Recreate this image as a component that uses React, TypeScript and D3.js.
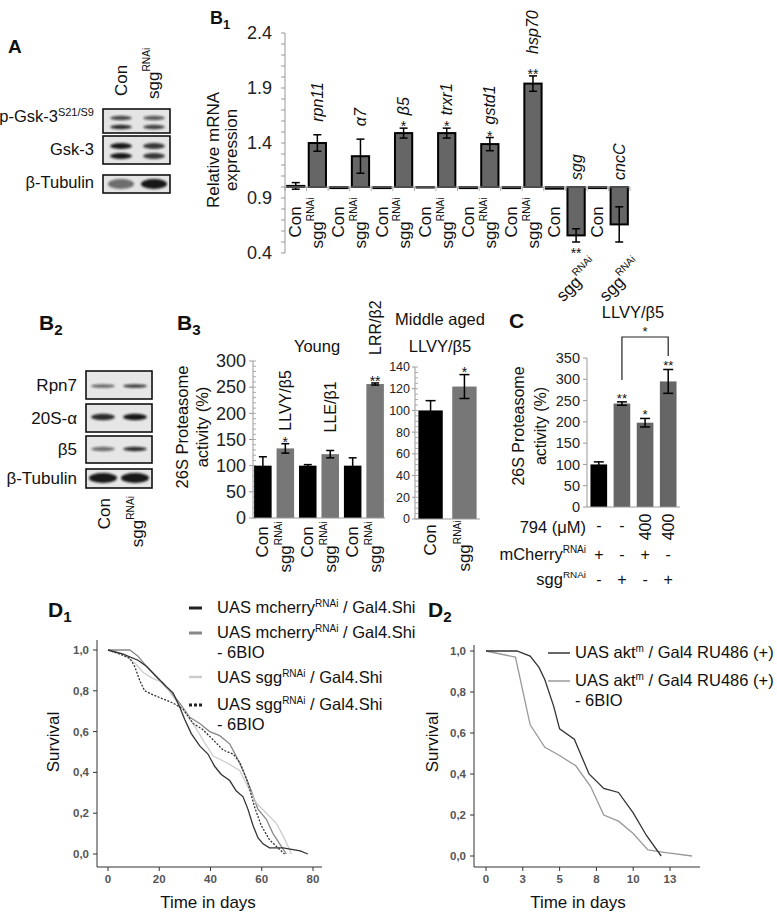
import React from "react";
import * as d3 from "d3";

const FONT = "'Liberation Sans', Arial, Helvetica, sans-serif";

// ---------------- Panel A (western blot) ----------------
const aRows = ["p-Gsk-3", "Gsk-3", "β-Tubulin"];
const aLanes = ["Con", "sgg"];
const aIntensity = [
  [0.85, 0.75],
  [0.95, 0.8],
  [0.55, 0.95],
];

// ---------------- Panel B1 ----------------
const b1Genes = ["rpn11", "α7", "β5", "trxr1", "gstd1", "hsp70", "sgg", "cncC"];
const b1ConValues = [1.01, 0.99, 0.99, 1.0, 0.99, 0.99, 0.985, 0.99];
const b1ConErrors = [0.03, 0.004, 0.004, 0.003, 0.004, 0.004, 0.008, 0.004];
const b1SggValues = [1.4, 1.28, 1.49, 1.49, 1.39, 1.94, 0.56, 0.66];
const b1SggErrors = [0.075, 0.155, 0.045, 0.045, 0.06, 0.07, 0.06, 0.16];
const b1Stars = ["", "", "*", "*", "*", "**", "**", ""];
const b1YTicks = [0.4, 0.9, 1.4, 1.9, 2.4];

// ---------------- Panel B2 ----------------
const b2Rows = ["Rpn7", "20S-α", "β5", "β-Tubulin"];
const b2Intensity = [
  [0.6, 0.8],
  [0.85, 0.95],
  [0.55, 0.85],
  [0.95, 0.95],
];

// ---------------- Panel B3 ----------------
const b3Assays = ["LLVY/β5", "LLE/β1", "LRR/β2"];
const b3ConValues = [100, 100, 100];
const b3ConErrors = [17, 2, 15];
const b3SggValues = [133, 122, 256];
const b3SggErrors = [9, 7, 2];
const b3Stars = ["*", "", "**"];
const b3YTicks = [0, 50, 100, 150, 200, 250, 300];
const b3MidValues = [100, 122];
const b3MidErrors = [9, 11];
const b3MidStars = ["", "*"];
const b3MidTicks = [0, 20, 40, 60, 80, 100, 120, 140];

// ---------------- Panel C ----------------
const cValues = [100, 243, 198, 295];
const cErrors = [6, 4, 10, 28];
const cStars = ["", "**", "*", "**"];
const cDose = ["-", "-", "400", "400"];
const cMcherry = ["+", "-", "+", "-"];
const cSgg = ["-", "+", "-", "+"];
const cYTicks = [0, 50, 100, 150, 200, 250, 300, 350];

// ---------------- Panel D1 ----------------
const d1Mcherry: [number, number][] = [[0, 1], [5.9, 0.98], [11.7, 0.95], [15, 0.92], [18.9, 0.87], [22.8, 0.82], [25.4, 0.79], [28, 0.72], [29.9, 0.66], [32.5, 0.59], [35.8, 0.53], [39, 0.49], [41.6, 0.43], [44.2, 0.39], [47.5, 0.36], [50, 0.31], [52.7, 0.28], [54.6, 0.22], [56.6, 0.14], [58.5, 0.08], [60.5, 0.05], [63, 0.03], [68.3, 0.03], [75, 0.015], [78, 0]];
const d1Mcherry6BIO: [number, number][] = [[0, 1], [8.5, 1.0], [11.7, 0.97], [15, 0.92], [20.2, 0.85], [24, 0.8], [28, 0.74], [31.9, 0.67], [35.8, 0.64], [39.7, 0.6], [43.6, 0.58], [47.5, 0.54], [50, 0.48], [52.7, 0.41], [55.9, 0.31], [58.5, 0.22], [61.8, 0.17], [64.4, 0.1], [67, 0.05], [69.6, 0]];
const d1Sgg: [number, number][] = [[0, 1], [5.9, 0.98], [11, 0.93], [13.7, 0.89], [17.6, 0.86], [21.5, 0.84], [25.4, 0.77], [29.3, 0.71], [33.2, 0.64], [37, 0.56], [41, 0.48], [46, 0.45], [51.4, 0.41], [54.6, 0.33], [57.9, 0.25], [61.8, 0.2], [65.7, 0.15], [68.3, 0.09], [70.9, 0.02], [71.5, 0]];
const d1Sgg6BIO: [number, number][] = [[0, 1], [4.5, 0.98], [8.5, 0.96], [10.4, 0.92], [12.4, 0.85], [14.3, 0.8], [17.6, 0.78], [21.5, 0.76], [25.4, 0.74], [29.3, 0.71], [33.2, 0.64], [37, 0.61], [41, 0.56], [44.9, 0.51], [48.8, 0.49], [51.4, 0.45], [54.6, 0.35], [57.2, 0.23], [59.8, 0.14], [63, 0.07], [66.3, 0.03], [68.9, 0]];
const d1XTicks = [0, 20, 40, 60, 80];
const survTicks = [0, 0.2, 0.4, 0.6, 0.8, 1.0];

// ---------------- Panel D2 ----------------
const d2Akt: [number, number][] = [[0, 1], [2.1, 1], [3, 0.975], [3.6, 0.92], [4, 0.86], [4.6, 0.73], [5, 0.62], [6, 0.57], [7, 0.4], [8, 0.33], [9, 0.31], [10, 0.21], [10.9, 0.1], [11.9, 0]];
const d2Akt6BIO: [number, number][] = [[0, 1], [2, 0.97], [3, 0.64], [4, 0.53], [5, 0.49], [6.1, 0.44], [7.1, 0.34], [8, 0.2], [9, 0.17], [10, 0.11], [11, 0.03], [12.1, 0.018], [14, 0]];
const d2XTicks = [0, 2.5, 5, 7.5, 10, 12.5];
const d2XTickLabels = ["0", "3", "5", "8", "10", "13"];

// ---------------- helpers ----------------
function Sgg({ size }: { size: number }) {
  return (
    <>
      <tspan>sgg</tspan>
      <tspan dy={-size * 0.42} fontSize={size * 0.6}>RNAi</tspan>
    </>
  );
}

function VText({ x, y, anchor = "start", size = 17, italic = false, children, fill = "#111", rot = -90 }: any) {
  return (
    <text
      transform={`translate(${x},${y}) rotate(${rot})`}
      textAnchor={anchor}
      dominantBaseline="central"
      fontSize={size}
      fontStyle={italic ? "italic" : "normal"}
      fill={fill}
    >
      {children}
    </text>
  );
}

function PanelLabel({ x, y, main, sub, size = 21 }: any) {
  return (
    <text x={x} y={y} fontSize={size} fontWeight="bold" fill="#111">
      {main}
      {sub ? <tspan fontSize={size * 0.72} dy={size * 0.25}>{sub}</tspan> : null}
    </text>
  );
}

function ErrBar({ cx, y1, y2, w = 8, sw = 1.5 }: any) {
  return (
    <g stroke="#000" strokeWidth={sw}>
      <line x1={cx} x2={cx} y1={y1} y2={y2} />
      <line x1={cx - w / 2} x2={cx + w / 2} y1={y1} y2={y1} />
      <line x1={cx - w / 2} x2={cx + w / 2} y1={y2} y2={y2} />
    </g>
  );
}

// ---------------- Panel A ----------------
function PanelA() {
  const boxX = 103, boxW = 67;
  const laneX = [121, 154];
  const rows = [
    { y: 109, h: 24, bands: [118, 127], ry: 2.2 },
    { y: 136, h: 28, bands: [146, 156], ry: 3 },
    { y: 175, h: 18, bands: [184], ry: 5 },
  ];
  const labelY = [122, 155, 188];
  return (
    <g>
      <PanelLabel x={8} y={53} main="A" size={19} />
      <VText x={121} y={96} size={17}>{aLanes[0]}</VText>
      <VText x={153} y={99} size={17}><Sgg size={17} /></VText>
      {aRows.map((r, i) => (
        <g key={r}>
          <text x={94} y={labelY[i]} textAnchor="end" fontSize={16.5} fill="#111">
            {i === 0 ? (<>{r}<tspan dy={-6} fontSize={11}>S21/S9</tspan></>) : r}
          </text>
          <rect x={boxX} y={rows[i].y} width={boxW} height={rows[i].h} fill="#e4e4e4" stroke="#111" strokeWidth={1.6} />
          {laneX.map((lx, j) =>
            rows[i].bands.map((by, k) => (
              <ellipse key={`${j}-${k}`} cx={lx} cy={by} rx={i === 2 ? 13 : 11} ry={rows[i].ry}
                fill="#111" opacity={aIntensity[i][j] * (k === 0 && i === 0 ? 0.85 : 1)} filter="url(#blur)" />
            ))
          )}
        </g>
      ))}
    </g>
  );
}

// ---------------- Panel B1 ----------------
function PanelB1() {
  const y = d3.scaleLinear().domain([0.4, 2.4]).range([253, 33]);
  const n = b1Genes.length * 2;
  const x = d3.scaleBand<number>().domain(d3.range(n)).range([285, 630]).paddingInner(0.2).paddingOuter(0.1);
  const bw = x.bandwidth();
  const base = y(1);
  const minor = d3.range(4, 25).map((v) => v / 10);
  return (
    <g>
      <PanelLabel x={210} y={24} main="B" sub="1" size={18} />
      <VText x={213} y={150} anchor="middle" size={17}>Relative mRNA</VText>
      <VText x={231} y={150} anchor="middle" size={17}>expression</VText>
      <line x1={285} x2={285} y1={y(2.4)} y2={y(0.4)} stroke="#999" />
      {minor.map((v) => (
        <line key={v} x1={281} x2={285} y1={y(v)} y2={y(v)} stroke="#999" />
      ))}
      {b1YTicks.map((v) => (
        <text key={v} x={272} y={y(v)} dy="0.35em" textAnchor="end" fontSize={18} fill="#222">{v.toFixed(1)}</text>
      ))}
      {d3.range(n + 1).map((i) => {
        const xx = 285 + (i * 345) / n;
        return <line key={i} x1={xx} x2={xx} y1={base} y2={base + 4} stroke="#aaa" />;
      })}
      {b1Genes.map((g, gi) => {
        const ci = gi * 2, si = gi * 2 + 1;
        const cx0 = (x(ci) as number) + bw / 2;
        const cx1 = (x(si) as number) + bw / 2;
        const cv = b1ConValues[gi], sv = b1SggValues[gi];
        const se = b1SggErrors[gi];
        const pos = sv >= 1;
        const errTop = y(sv + se), errBot = y(sv - se);
        const star = b1Stars[gi];
        return (
          <g key={g}>
            <rect x={x(ci)} y={Math.min(y(cv), base)} width={bw} height={Math.max(Math.abs(y(cv) - base), 0.5)} fill="#000" stroke="#000" strokeWidth={2} />
            {b1ConErrors[gi] > 0.01 && <ErrBar cx={cx0} y1={y(cv + b1ConErrors[gi])} y2={y(cv - b1ConErrors[gi])} />}
            <rect x={x(si)} y={Math.min(y(sv), base)} width={bw} height={Math.abs(y(sv) - base)} fill="#666" stroke="#000" strokeWidth={2} />
            <ErrBar cx={cx1} y1={errTop} y2={errBot} />
            {pos ? (
              <>
                {star && <text x={cx1} y={errTop + 3} textAnchor="middle" fontSize={14} fill="#111">{star}</text>}
                <VText x={cx1} y={errTop - (star === "**" ? 22 : 13)} size={16} italic>{g}</VText>
              </>
            ) : (
              <>
                {star && <text x={cx1} y={errBot + 16} textAnchor="middle" fontSize={14} fill="#111">{star}</text>}
                <VText x={cx1} y={base - 7} size={16} italic>{g}</VText>
              </>
            )}
            <VText x={cx0} y={222} anchor="middle" size={17}>Con</VText>
            {pos ? (
              <VText x={cx1} y={223} anchor="middle" size={17}><Sgg size={17} /></VText>
            ) : (
              <VText x={cx1 + 19} y={262} anchor="end" size={17} rot={-45}><Sgg size={17} /></VText>
            )}
          </g>
        );
      })}
      <line x1={285} x2={630} y1={base} y2={base} stroke="#999" />
    </g>
  );
}

// ---------------- Panel B2 ----------------
function PanelB2() {
  const rows = [
    { y: 371, h: 28, cy: 386, ry: 1.8 },
    { y: 404, h: 28, cy: 417, ry: 3.2 },
    { y: 436, h: 27, cy: 449, ry: 2.2 },
    { y: 469, h: 19, cy: 478, ry: 5 },
  ];
  const laneX = [103, 135];
  return (
    <g>
      <PanelLabel x={39} y={330} main="B" sub="2" />
      {b2Rows.map((r, i) => (
        <g key={r}>
          <text x={77} y={rows[i].y + rows[i].h / 2} dy="0.35em" textAnchor="end" fontSize={17} fill="#111">{r}</text>
          <rect x={86} y={rows[i].y} width={66} height={rows[i].h} fill="#e6e6e6" stroke="#111" strokeWidth={1.6} />
          {laneX.map((lx, j) => (
            <ellipse key={j} cx={lx} cy={rows[i].cy} rx={i === 3 ? 14 : 12} ry={rows[i].ry}
              fill="#111" opacity={b2Intensity[i][j]} filter="url(#blur)" />
          ))}
        </g>
      ))}
      <VText x={104} y={498} anchor="end" size={17}>Con</VText>
      <VText x={137} y={496} anchor="end" size={17}><Sgg size={17} /></VText>
    </g>
  );
}

// ---------------- Panel B3 ----------------
function PanelB3() {
  const y = d3.scaleLinear().domain([0, 300]).range([518, 361]);
  const n = b3Assays.length * 2;
  const x = d3.scaleBand<number>().domain(d3.range(n)).range([253, 385]).paddingInner(0.22).paddingOuter(0.05);
  const bw = x.bandwidth();
  const minor = d3.range(0, 301, 10);
  const y2 = d3.scaleLinear().domain([0, 140]).range([519, 367]);
  const x2 = d3.scaleBand<number>().domain([0, 1]).range([415, 480]).paddingInner(0.28).paddingOuter(0.1);
  const bw2 = x2.bandwidth();
  const minor2 = d3.range(0, 141, 5);
  return (
    <g>
      <PanelLabel x={177} y={330} main="B" sub="3" />
      <text x={317} y={352} textAnchor="middle" fontSize={16.5} fill="#111">Young</text>
      <VText x={182} y={427} anchor="middle" size={16.5}>26S Proteasome</VText>
      <VText x={202} y={427} anchor="middle" size={16.5}>activity (%)</VText>
      <line x1={253} x2={253} y1={y(300)} y2={y(0)} stroke="#999" />
      {minor.map((v) => (
        <line key={v} x1={253} x2={256} y1={y(v)} y2={y(v)} stroke="#aaa" />
      ))}
      {b3YTicks.map((v) => (
        <g key={v}>
          <line x1={249} x2={253} y1={y(v)} y2={y(v)} stroke="#999" />
          <text x={246} y={y(v)} dy="0.35em" textAnchor="end" fontSize={18} fill="#222">{v}</text>
        </g>
      ))}
      {b3Assays.map((a, ai) => {
        const ci = ai * 2, si = ai * 2 + 1;
        const cx0 = (x(ci) as number) + bw / 2;
        const cx1 = (x(si) as number) + bw / 2;
        const sv = b3SggValues[ai], se = b3SggErrors[ai];
        const errTop = y(sv + se);
        const star = b3Stars[ai];
        return (
          <g key={a}>
            <rect x={x(ci)} y={y(b3ConValues[ai])} width={bw} height={y(0) - y(b3ConValues[ai])} fill="#000" />
            <ErrBar cx={cx0} y1={y(b3ConValues[ai] + b3ConErrors[ai])} y2={y(b3ConValues[ai] - b3ConErrors[ai])} />
            <rect x={x(si)} y={y(sv)} width={bw} height={y(0) - y(sv)} fill="#777" />
            <ErrBar cx={cx1} y1={errTop} y2={y(sv - se)} />
            {star && <text x={cx1} y={errTop + 3} textAnchor="middle" fontSize={14} fill="#111">{star}</text>}
            <VText x={cx1} y={errTop - (star === "**" ? 28 : star ? 13 : 18)} size={16}>{a}</VText>
            <VText x={cx0} y={542} anchor="middle" size={17}>Con</VText>
            <VText x={cx1} y={547} anchor="middle" size={17}><Sgg size={17} /></VText>
          </g>
        );
      })}
      <line x1={253} x2={385} y1={y(0)} y2={y(0)} stroke="#999" />

      {/* Middle aged */}
      <text x={440} y={325} textAnchor="middle" fontSize={16.5} fill="#111">Middle aged</text>
      <text x={440} y={352} textAnchor="middle" fontSize={16.5} fill="#111">LLVY/β5</text>
      <line x1={415} x2={415} y1={y2(140)} y2={y2(0)} stroke="#999" />
      {minor2.map((v) => (
        <line key={v} x1={415} x2={418} y1={y2(v)} y2={y2(v)} stroke="#aaa" />
      ))}
      {b3MidTicks.map((v) => (
        <g key={v}>
          <line x1={412} x2={415} y1={y2(v)} y2={y2(v)} stroke="#999" />
          <text x={410} y={y2(v)} dy="0.35em" textAnchor="end" fontSize={12.5} fill="#222">{v}</text>
        </g>
      ))}
      {b3MidValues.map((v, i) => {
        const cx = (x2(i) as number) + bw2 / 2;
        const errTop = y2(v + b3MidErrors[i]);
        return (
          <g key={i}>
            <rect x={x2(i)} y={y2(v)} width={bw2} height={y2(0) - y2(v)} fill={i === 0 ? "#000" : "#777"} />
            <ErrBar cx={cx} y1={errTop} y2={y2(v - b3MidErrors[i])} w={10} />
            {b3MidStars[i] && <text x={cx} y={errTop + 2} textAnchor="middle" fontSize={14} fill="#111">{b3MidStars[i]}</text>}
            {i === 0 ? (
              <VText x={cx} y={540} anchor="middle" size={17}>Con</VText>
            ) : (
              <VText x={cx} y={546} anchor="middle" size={17}><Sgg size={17} /></VText>
            )}
          </g>
        );
      })}
      <line x1={415} x2={480} y1={y2(0)} y2={y2(0)} stroke="#999" />
    </g>
  );
}

// ---------------- Panel C ----------------
function PanelC() {
  const y = d3.scaleLinear().domain([0, 350]).range([507, 358]);
  const x = d3.scaleBand<number>().domain(d3.range(cValues.length)).range([587, 680]).paddingInner(0.28).paddingOuter(0.15);
  const bw = x.bandwidth();
  const cxs = cValues.map((_, i) => (x(i) as number) + bw / 2);
  const rowLabelX = 586;
  return (
    <g>
      <PanelLabel x={509} y={328} main="C" />
      <text x={633} y={318} textAnchor="middle" fontSize={16.5} fill="#111">LLVY/β5</text>
      <VText x={518} y={426} anchor="middle" size={16}>26S Proteasome</VText>
      <VText x={540} y={426} anchor="middle" size={16}>activity (%)</VText>
      <line x1={587} x2={587} y1={y(350)} y2={y(0)} stroke="#999" />
      {cYTicks.map((v) => (
        <g key={v}>
          <line x1={583} x2={587} y1={y(v)} y2={y(v)} stroke="#999" />
          <text x={580} y={y(v)} dy="0.35em" textAnchor="end" fontSize={14.5} fill="#222">{v}</text>
        </g>
      ))}
      {cValues.map((v, i) => {
        const errTop = y(v + cErrors[i]);
        return (
          <g key={i}>
            <rect x={x(i)} y={y(v)} width={bw} height={y(0) - y(v)} fill={i === 0 ? "#000" : "#666"} />
            <ErrBar cx={cxs[i]} y1={errTop} y2={y(v - cErrors[i])} w={10} />
            {cStars[i] && <text x={cxs[i]} y={errTop + 1} textAnchor="middle" fontSize={13} fill="#111">{cStars[i]}</text>}
          </g>
        );
      })}
      <line x1={587} x2={680} y1={y(0)} y2={y(0)} stroke="#999" />
      {/* bracket */}
      <path d={`M${cxs[1]},380 V337 H${cxs[3]} V356`} fill="none" stroke="#222" strokeWidth={1.2} />
      <text x={(cxs[1] + cxs[3]) / 2} y={336} textAnchor="middle" fontSize={13} fill="#111">*</text>
      {/* rows */}
      <text x={rowLabelX} y={533} textAnchor="end" fontSize={16.5} fill="#111">794 (μM)</text>
      <text x={rowLabelX} y={560} textAnchor="end" fontSize={16.5} fill="#111">mCherry<tspan dy={-7} fontSize={10}>RNAi</tspan></text>
      <text x={rowLabelX} y={585} textAnchor="end" fontSize={16.5} fill="#111"><Sgg size={16.5} /></text>
      {cDose.map((d, i) =>
        d === "-" ? (
          <text key={i} x={cxs[i]} y={531} textAnchor="middle" fontSize={16} fill="#111">-</text>
        ) : (
          <VText key={i} x={cxs[i]} y={527} anchor="middle" size={16}>{d}</VText>
        )
      )}
      {cMcherry.map((d, i) => (
        <text key={i} x={cxs[i]} y={560} textAnchor="middle" fontSize={16} fill="#111">{d}</text>
      ))}
      {cSgg.map((d, i) => (
        <text key={i} x={cxs[i]} y={585} textAnchor="middle" fontSize={16} fill="#111">{d}</text>
      ))}
    </g>
  );
}

// ---------------- survival axes ----------------
function SurvAxes({ x, y, x0, x1, y0, y1, xTicks, xLabels, titleX, titleY, tx }: any) {
  const fmt = (v: number) => v.toFixed(1).replace(".", ",");
  return (
    <g>
      <line x1={x0} x2={x0} y1={y0} y2={y1} stroke="#333" />
      <line x1={x0} x2={x1} y1={y1} y2={y1} stroke="#333" />
      {survTicks.map((v) => (
        <g key={v}>
          <line x1={x0 - 4} x2={x0} y1={y(v)} y2={y(v)} stroke="#333" />
          <text x={x0 - 8} y={y(v)} dy="0.35em" textAnchor="end" fontSize={11.5} fontWeight="bold" fill="#555">{fmt(v)}</text>
        </g>
      ))}
      {xTicks.map((v: number, i: number) => (
        <g key={v}>
          <line x1={x(v)} x2={x(v)} y1={y1} y2={y1 + 4} stroke="#333" />
          <text x={x(v)} y={883} textAnchor="middle" fontSize={11.5} fontWeight="bold" fill="#555">{xLabels[i]}</text>
        </g>
      ))}
      <VText x={titleX} y={742} anchor="middle" size={17}>Survival</VText>
      <text x={tx} y={908} textAnchor="middle" fontSize={17} fill="#111">Time in days</text>
    </g>
  );
}

function PanelD1() {
  const x = d3.scaleLinear().domain([0, 80]).range([108, 313]);
  const y = d3.scaleLinear().domain([0, 1]).range([854, 650]);
  const line = d3.line<[number, number]>().x((d) => x(d[0])).y((d) => y(d[1]));
  const series = [
    { d: d1Mcherry6BIO, stroke: "#888", w: 1.3, dash: undefined },
    { d: d1Sgg, stroke: "#ccc", w: 1.3, dash: undefined },
    { d: d1Sgg6BIO, stroke: "#333", w: 1.3, dash: "2,1.5" },
    { d: d1Mcherry, stroke: "#333", w: 1.3, dash: undefined },
  ];
  const legend = [
    { stroke: "#222", w: 3, dash: undefined, ly: 608, lines: [["UAS mcherry", "RNAi", " / Gal4.Shi"]], ty: 613 },
    { stroke: "#888", w: 3, dash: undefined, ly: 633, lines: [["UAS mcherry", "RNAi", " / Gal4.Shi"], ["- 6BIO"]], ty: 638 },
    { stroke: "#ccc", w: 2.5, dash: undefined, ly: 677, lines: [["UAS sgg", "RNAi", " / Gal4.Shi"]], ty: 683 },
    { stroke: "#222", w: 3, dash: "3,2", ly: 705, lines: [["UAS sgg", "RNAi", " / Gal4.Shi"], ["- 6BIO"]], ty: 710 },
  ];
  return (
    <g>
      <PanelLabel x={48} y={617} main="D" sub="1" />
      {legend.map((l, i) => (
        <g key={i}>
          <line x1={189} x2={202} y1={l.ly} y2={l.ly} stroke={l.stroke} strokeWidth={l.w} strokeDasharray={l.dash} />
          {l.lines.map((ln, k) => (
            <text key={k} x={217} y={l.ty + k * 20} fontSize={16.5} fill="#111">
              {ln[0]}
              {ln[1] && <tspan dy={-6} fontSize={10}>{ln[1]}</tspan>}
              {ln[2] && <tspan dy={6}>{ln[2]}</tspan>}
            </text>
          ))}
        </g>
      ))}
      <SurvAxes x={x} y={y} x0={97} x1={322} y0={640} y1={867} xTicks={d1XTicks} xLabels={d1XTicks.map(String)} titleX={53} tx={208} />
      {series.map((s, i) => (
        <path key={i} d={line(s.d) as string} fill="none" stroke={s.stroke} strokeWidth={s.w} strokeDasharray={s.dash} />
      ))}
    </g>
  );
}

function PanelD2() {
  const x = d3.scaleLinear().domain([0, 12.5]).range([486, 670]);
  const y = d3.scaleLinear().domain([0, 1]).range([856, 651]);
  const line = d3.line<[number, number]>().x((d) => x(d[0])).y((d) => y(d[1]));
  return (
    <g>
      <PanelLabel x={428} y={617} main="D" sub="2" />
      <line x1={548} x2={570} y1={653} y2={653} stroke="#333" strokeWidth={1.5} />
      <text x={575} y={658} fontSize={16.5} fill="#111">UAS akt<tspan dy={-6} fontSize={10}>m</tspan><tspan dy={6}> / Gal4 RU486 (+)</tspan></text>
      <line x1={548} x2={570} y1={681} y2={681} stroke="#999" strokeWidth={1.5} />
      <text x={575} y={686} fontSize={16.5} fill="#111">UAS akt<tspan dy={-6} fontSize={10}>m</tspan><tspan dy={6}> / Gal4 RU486 (+)</tspan></text>
      <text x={575} y={706} fontSize={16.5} fill="#111">- 6BIO</text>
      <SurvAxes x={x} y={y} x0={474} x1={700} y0={645} y1={867} xTicks={d2XTicks} xLabels={d2XTickLabels} titleX={432} tx={578} />
      <path d={line(d2Akt6BIO) as string} fill="none" stroke="#999" strokeWidth={1.3} />
      <path d={line(d2Akt) as string} fill="none" stroke="#333" strokeWidth={1.3} />
    </g>
  );
}

export default function App() {
  return (
    <div style={{ position: "absolute", left: 0, top: 0, width: 777, height: 913, background: "#fff" }}>
      <svg width={777} height={913} style={{ display: "block" }} fontFamily={FONT}>
        <defs>
          <filter id="blur" x="-50%" y="-100%" width="200%" height="300%">
            <feGaussianBlur stdDeviation="1.3" />
          </filter>
        </defs>
        <rect width={777} height={913} fill="#fff" />
        <PanelA />
        <PanelB1 />
        <PanelB2 />
        <PanelB3 />
        <PanelC />
        <PanelD1 />
        <PanelD2 />
      </svg>
    </div>
  );
}
